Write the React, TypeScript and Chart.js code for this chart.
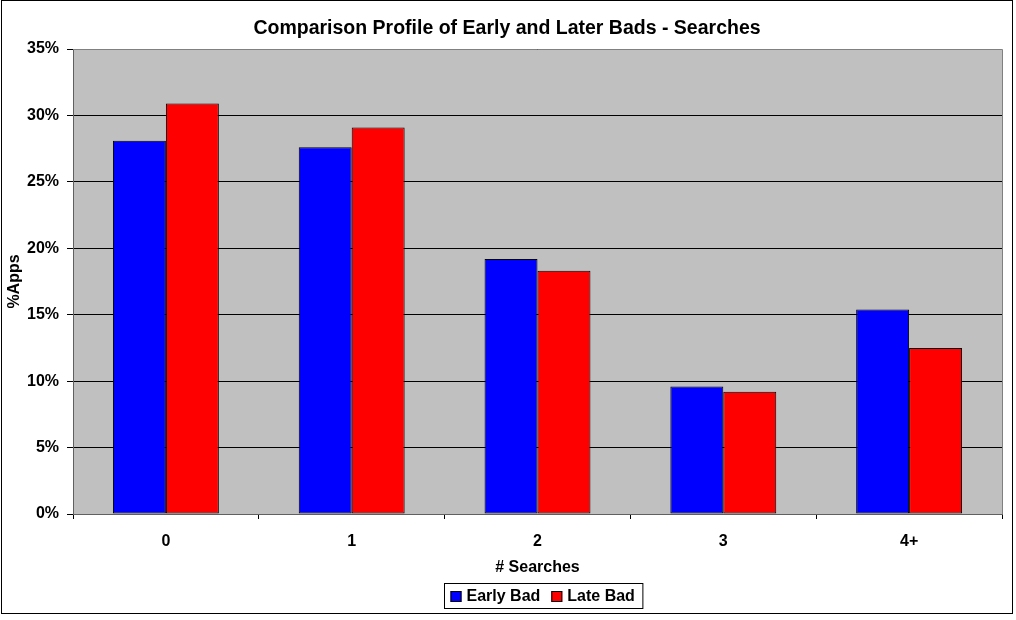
import React, { useEffect, useRef } from "react";
import { Chart, registerables } from "chart.js";

Chart.register(...registerables);

// Search-count buckets and share of applications (%) for each bad group
const categories = ["0", "1", "2", "3", "4+"];
const earlyBad = [28.1, 27.6, 19.2, 9.6, 15.4];
const lateBad = [30.9, 29.1, 18.3, 9.2, 12.5];
const seriesNames = ["Early Bad", "Late Bad"];
const seriesColors = ["#0000FF", "#FF0000"];
const chartTitle = "Comparison Profile of Early and Later Bads - Searches";
const xTitle = "# Searches";
const yTitle = "%Apps";

const FONT = "'Liberation Sans', Arial, sans-serif";

// Frame, grey plot background, title and boxed legend
const decorPlugin = {
  id: "decor",
  beforeDraw(chart: any) {
    const { ctx, chartArea: a, width, height } = chart;
    ctx.save();
    ctx.fillStyle = "#FFFFFF";
    ctx.fillRect(0, 0, width, height);
    ctx.fillStyle = "#C0C0C0";
    ctx.fillRect(a.left, a.top, a.right - a.left, a.bottom - a.top);
    ctx.restore();
  },
  beforeDatasetsDraw(chart: any) {
    const { ctx, chartArea: a } = chart;
    ctx.save();
    ctx.strokeStyle = "#808080";
    ctx.lineWidth = 1;
    ctx.beginPath();
    ctx.moveTo(a.left, Math.round(a.top) + 0.5);
    ctx.lineTo(Math.round(a.right) + 0.5, Math.round(a.top) + 0.5);
    ctx.lineTo(Math.round(a.right) + 0.5, a.bottom);
    ctx.stroke();
    ctx.restore();
  },
  afterDraw(chart: any) {
    const { ctx } = chart;
    ctx.save();
    // outer frame
    ctx.strokeStyle = "#000000";
    ctx.lineWidth = 1;
    ctx.strokeRect(1.5, 0.5, 1011, 613);

    // title
    ctx.fillStyle = "#000000";
    ctx.font = `bold 19.5px ${FONT}`;
    ctx.textAlign = "center";
    ctx.textBaseline = "middle";
    ctx.fillText(chartTitle, 507, 29);

    // legend
    ctx.font = `bold 16px ${FONT}`;
    const pad = 6;
    const sq = 11;
    const gap = 5;
    const itemGap = 11;
    const items = chart.data.datasets.map((d: any) => ({
      label: d.label,
      color: d.backgroundColor,
      w: ctx.measureText(d.label).width,
    }));
    let total = pad * 2 + 2;
    items.forEach((it: any, i: number) => {
      total += sq + gap + it.w + (i < items.length - 1 ? itemGap : 0);
    });
    const cx = 543.5;
    const top = 583.5;
    const h = 25;
    const left = Math.round(cx - total / 2) + 0.5;
    ctx.strokeStyle = "#000000";
    ctx.strokeRect(left, top, total, h);
    let x = left + pad;
    const midY = top + h / 2;
    ctx.textAlign = "left";
    items.forEach((it: any) => {
      ctx.fillStyle = it.color;
      ctx.fillRect(x, Math.round(midY - sq / 2), sq, sq);
      ctx.strokeStyle = "#000000";
      ctx.strokeRect(x + 0.5, Math.round(midY - sq / 2) + 0.5, sq - 1, sq - 1);
      x += sq + gap;
      ctx.fillStyle = "#000000";
      ctx.fillText(it.label, x, midY + 1);
      x += it.w + itemGap;
    });
    ctx.restore();
  },
};

export default function App() {
  const canvasRef = useRef<HTMLCanvasElement | null>(null);

  useEffect(() => {
    const canvas = canvasRef.current;
    if (!canvas) return;
    const chart = new Chart(canvas, {
      type: "bar",
      data: {
        labels: categories,
        datasets: [
          {
            label: seriesNames[0],
            data: earlyBad,
            backgroundColor: seriesColors[0],
            borderColor: "#000000",
            borderWidth: 1,
            borderSkipped: false,
            categoryPercentage: 0.57,
            barPercentage: 1.0,
          },
          {
            label: seriesNames[1],
            data: lateBad,
            backgroundColor: seriesColors[1],
            borderColor: "#000000",
            borderWidth: 1,
            borderSkipped: false,
            categoryPercentage: 0.57,
            barPercentage: 1.0,
          },
        ],
      },
      options: {
        responsive: false,
        animation: false,
        devicePixelRatio: 1,
        layout: { padding: { left: 0, top: 49, right: 14, bottom: 0 } },
        plugins: {
          legend: { display: false },
          title: { display: false },
          tooltip: { enabled: false },
        },
        scales: {
          x: {
            grid: {
              offset: true,
              drawOnChartArea: false,
              drawTicks: true,
              tickLength: 5,
              color: "#000000",
            },
            border: { color: "#606060" },
            ticks: {
              color: "#000000",
              font: { family: FONT, size: 16, weight: "bold" },
              padding: 13,
            },
            title: {
              display: true,
              text: xTitle,
              color: "#000000",
              font: { family: FONT, size: 16, weight: "bold" },
              padding: { top: 0, bottom: 43 },
            },
            afterFit(scale: any) {
              scale.height = 106;
            },
          },
          y: {
            min: 0,
            max: 35,
            grid: {
              color: "#000000",
              tickLength: 6,
              drawTicks: true,
            },
            border: { color: "#606060" },
            ticks: {
              stepSize: 5,
              color: "#000000",
              font: { family: FONT, size: 16, weight: "bold" },
              padding: 8,
              callback: (v: any) => `${v}%`,
            },
            title: {
              display: true,
              text: yTitle,
              color: "#000000",
              font: { family: FONT, size: 16, weight: "bold" },
              padding: { top: 5, bottom: 0 },
            },
            afterFit(scale: any) {
              scale.width = 73;
            },
          },
        },
      },
      plugins: [decorPlugin],
    });
    return () => chart.destroy();
  }, []);

  return (
    <div
      style={{
        position: "fixed",
        left: 0,
        top: 0,
        width: 1016,
        height: 620,
        background: "#FFFFFF",
      }}
    >
      <canvas ref={canvasRef} width={1016} height={620} />
    </div>
  );
}
